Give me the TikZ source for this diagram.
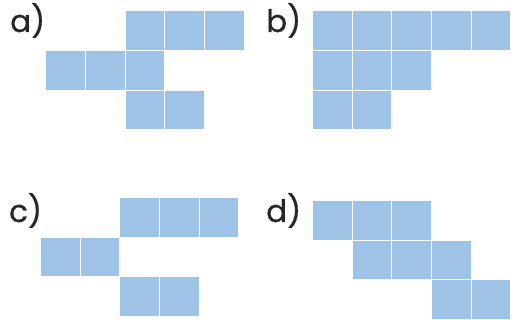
\documentclass[tikz,border=0pt]{standalone}
\usepackage{fontspec}
\setmainfont{Poppins}
\newfontfamily\lblfont[FakeBold=0.6]{Poppins}
\definecolor{cellblue}{RGB}{159,195,230}
\begin{document}
\begin{tikzpicture}[x=1pt,y=-1pt,
  cell/.style={fill=cellblue,draw=none,inner sep=0pt,minimum size=38.7pt,anchor=north west},
  lbl/.style={anchor=base west,inner sep=0pt,font=\lblfont\fontsize{31}{31}\selectfont,text=black!85}]
\useasboundingbox (0,0) rectangle (513,320);
\def\p{39.7}
% labels
\node[lbl] (la) at (10,32) {a)};
\node[lbl] (lb) at (266,32) {b)};
\node[lbl] (lc) at (9,222) {c)};
\node[lbl] (ld) at (266,222) {d)};
% panel a
\foreach \r/\c in {0/2,0/3,0/4,1/0,1/1,1/2,2/2,2/3}
  \node[cell] (a-\r-\c) at (46+\c*\p, 11+\r*\p) {};
% panel b
\foreach \r/\c in {0/0,0/1,0/2,0/3,0/4,1/0,1/1,1/2,2/0,2/1}
  \node[cell] (b-\r-\c) at (312.7+\c*\p, 11+\r*\p) {};
% panel c
\foreach \r/\c in {0/2,0/3,0/4,1/0,1/1,2/2,2/3}
  \node[cell] (c-\r-\c) at (40.7+\c*\p, 197.7+\r*\p) {};
% panel d
\foreach \r/\c in {0/0,0/1,0/2,1/1,1/2,1/3,2/3,2/4}
  \node[cell] (d-\r-\c) at (312.7+\c*\p, 200.7+\r*\p) {};
\end{tikzpicture}
\end{document}
